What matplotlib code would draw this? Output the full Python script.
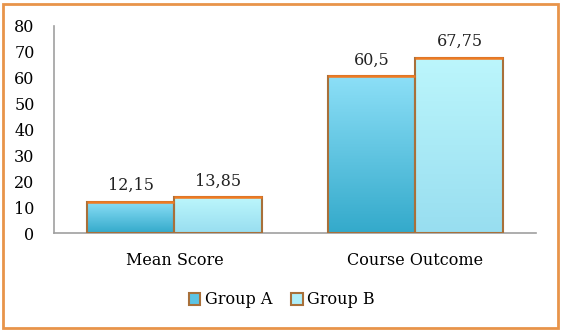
import numpy as np
import matplotlib
matplotlib.use("Agg")
import matplotlib.pyplot as plt
from matplotlib.colors import LinearSegmentedColormap
from matplotlib.patches import Rectangle

categories = ["Mean Score", "Course Outcome"]
groups = ["Group A", "Group B"]
group_a = [12.15, 60.5]
group_b = [13.85, 67.75]
value_labels_a = ["12,15", "60,5"]
value_labels_b = ["13,85", "67,75"]
yticks = [0, 10, 20, 30, 40, 50, 60, 70, 80]

plt.rcParams['font.family'] = ['DejaVu Serif']
FS = 11.5

fig = plt.figure(figsize=(5.61, 3.32), dpi=100)
ax = fig.add_axes([54 / 561, 1 - 233 / 332, 482 / 561, 207 / 332])

# orange frame around the whole chart
fig.patches.append(Rectangle((3 / 561, 4 / 332), 555 / 561, 324 / 332,
                             transform=fig.transFigure, fill=False,
                             edgecolor="#e8944a", linewidth=2))

cmap_a = LinearSegmentedColormap.from_list("ga", ["#34aacb", "#8cdff7"])
cmap_b = LinearSegmentedColormap.from_list("gb", ["#98def0", "#bcf6fc"])
grad = np.linspace(0, 1, 100).reshape(-1, 1)

width = 0.365
x = np.arange(len(categories))


def draw_bar(xc, h, cmap):
    left = xc - width / 2
    im = ax.imshow(grad, cmap=cmap, origin="lower", aspect="auto",
                   extent=(left, left + width, 0, h), zorder=2)
    rect = Rectangle((left, 0), width, h, facecolor="none",
                     edgecolor="#a8703a", linewidth=1.5, zorder=3)
    ax.add_patch(rect)
    im.set_clip_path(rect)
    ax.plot([left, left + width], [h, h], color="#f07a22", linewidth=1.8,
            zorder=4, solid_capstyle="butt")


for i in range(len(categories)):
    draw_bar(x[i] - width / 2, group_a[i], cmap_a)
    draw_bar(x[i] + width / 2, group_b[i], cmap_b)
    ax.text(x[i] - width / 2, group_a[i] + 3, value_labels_a[i],
            ha="center", va="bottom", fontsize=FS, color="#222222")
    ax.text(x[i] + width / 2, group_b[i] + 3, value_labels_b[i],
            ha="center", va="bottom", fontsize=FS, color="#222222")

ax.set_xlim(-0.5, 1.5)
ax.set_ylim(0, 80)
ax.set_yticks(yticks)
ax.set_xticks(x)
ax.set_xticklabels(categories, fontsize=FS)
ax.tick_params(axis="y", labelsize=FS, length=0, pad=14)
ax.tick_params(axis="x", length=0, pad=14)
for s in ["top", "right"]:
    ax.spines[s].set_visible(False)
ax.spines["left"].set_color("#a0a0a0")
ax.spines["bottom"].set_color("#a0a0a0")
ax.spines["left"].set_linewidth(1.2)
ax.spines["bottom"].set_linewidth(1.2)

handles = [Rectangle((0, 0), 1, 1, facecolor="#5cc4e4", edgecolor="#a8703a", linewidth=1.5),
           Rectangle((0, 0), 1, 1, facecolor="#aeeefa", edgecolor="#a8703a", linewidth=1.5)]
fig.legend(handles, groups, loc="center", bbox_to_anchor=(282 / 561, 1 - 300 / 332),
           ncol=2, frameon=False, fontsize=FS, handlelength=0.7, handleheight=0.7,
           handletextpad=0.3, columnspacing=1.2)

fig.savefig("out.png", dpi=100)
